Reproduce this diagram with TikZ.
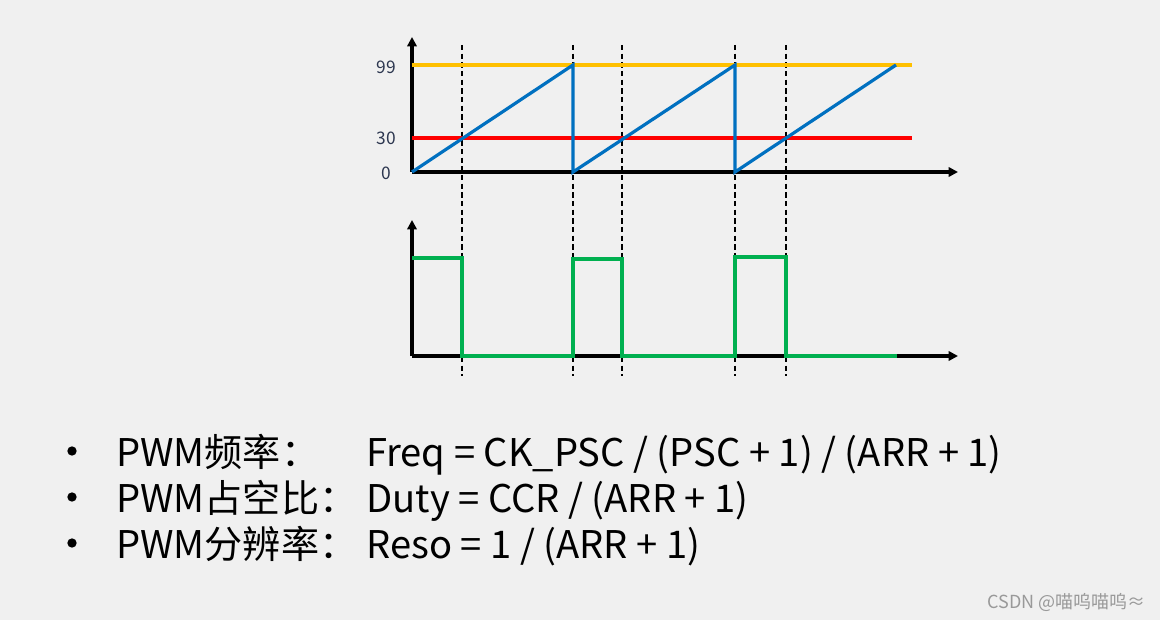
\documentclass[tikz,border=0pt]{standalone}
\usepackage{fontspec}
\setmainfont{Noto Sans CJK SC}
\usepackage{tikz}
\usetikzlibrary{arrows.meta}
\definecolor{pagebg}{RGB}{240,240,240}
\definecolor{sawblue}{RGB}{0,112,192}
\definecolor{arrgold}{RGB}{255,192,0}
\definecolor{ccrred}{RGB}{255,0,0}
\definecolor{pwmgreen}{RGB}{0,176,80}
\definecolor{ticktext}{RGB}{45,55,80}
\tikzstyle{axis}=[draw, line width=2.4pt, -{Triangle[length=7pt,width=7pt]}]
\tikzstyle{threshold}=[draw, line width=2.6pt]
\tikzstyle{saw}=[draw, line width=2.4pt, color=sawblue]
\tikzstyle{pwm}=[draw, line width=2.6pt, color=pwmgreen]
\tikzstyle{marker}=[draw, line width=1.5pt, dash pattern=on 4pt off 2.5pt]
\tikzstyle{tick label}=[anchor=east, inner sep=0pt, text=ticktext, font=\fontsize{13}{15}\selectfont]
\tikzstyle{formula}=[anchor=base west, inner sep=0pt, font=\fontsize{28.6}{34}\selectfont]
\tikzstyle{bullet}=[circle, fill=black, draw=none, inner sep=0pt, minimum size=7pt]
\tikzstyle{note}=[anchor=east, inner sep=0pt, text=black!40, font=\fontsize{13.5}{15}\selectfont]

\begin{document}
\begin{tikzpicture}[x=0.75pt, y=-0.75pt]
	\fill[pagebg] (0,0) rectangle (1160,620);

	% First we place the corners of both charts
	\foreach \x/\y/\name in {
		412/172/o1, 412/37/y1, 958/172/x1,
		412/356/o2, 412/220/y2, 958/356/x2,
		412/65/top0, 912/65/top1,
		412/138/cmp0, 912/138/cmp1}
	\coordinate (\name) at (\x,\y);

	% Sawtooth corners
	\foreach \x/\y/\name in {
		573/65/s1, 573/172/s2, 735/65/s3,
		735/172/s4, 896/65/s5}
	\coordinate (\name) at (\x,\y);

	% PWM output corners
	\foreach \x/\y/\name in {
		412/258/p0, 462/258/p1, 462/356/p2, 573/356/p3,
		573/259/p4, 622/259/p5, 622/356/p6, 735/356/p7,
		735/257/p8, 786/257/p9, 786/356/p10, 897/356/p11}
	\coordinate (\name) at (\x,\y);

	% Dashed markers where the counter meets 30 or 99
	\foreach \x/\name in {462/m1, 573/m2, 622/m3, 735/m4, 786/m5}{
		\coordinate (\name a) at (\x,45);
		\coordinate (\name b) at (\x,376);
		\path[marker] (\name a) -- (\name b);
	}

	% Axes
	\path[axis] (o1) -- (y1);
	\path[axis] (o1) -- (x1);
	\path[axis] (o2) -- (y2);
	\path[axis] (o2) -- (x2);

	% Levels and counter
	\path[threshold, arrgold] (top0) -- (top1);
	\path[threshold, ccrred] (cmp0) -- (cmp1);
	\path[saw] (o1) -- (s1) -- (s2) -- (s3) -- (s4) -- (s5);
	\path[pwm] (p0) -- (p1) -- (p2) -- (p3) -- (p4) -- (p5) -- (p6)
		-- (p7) -- (p8) -- (p9) -- (p10) -- (p11);

	\node[tick label] (l99) at (396,67) {99};
	\node[tick label] (l30) at (396,138) {30};
	\node[tick label] (l0) at (391,173) {0};

	% Formulas
	\foreach \y/\name/\head/\body in {
		466/freq/PWM频率：/{Freq = CK\_PSC / (PSC + 1) / (ARR + 1)},
		512/duty/PWM占空比：/{Duty = CCR / (ARR + 1)},
		558/reso/PWM分辨率：/{Reso = 1 / (ARR + 1)}}{
		\node[bullet] (\name dot) at (72,\y-15) {};
		\node[formula] (\name head) at (116,\y) {\head};
		\node[formula] (\name body) at (366,\y) {\body};
	}

	\node[note] (mark) at (1146,602) {CSDN @喵呜喵呜≈};
\end{tikzpicture}
\end{document}
